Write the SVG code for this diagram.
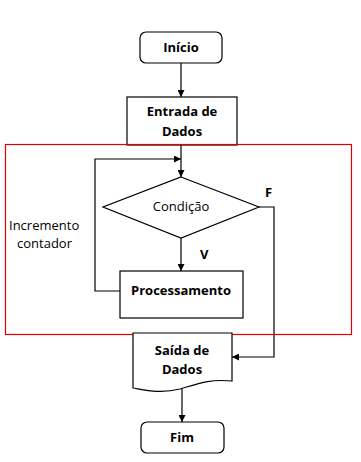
<svg xmlns="http://www.w3.org/2000/svg" width="361" height="462" viewBox="0 0 361 462">
  <style>
    .shape { fill: #ffffff; stroke: #000000; stroke-width: 1.2; }
    .line { fill: none; stroke: #000000; stroke-width: 1.2; }
    .lbl { font-family: "Open Sans", "Liberation Sans", sans-serif; font-size: 13px; fill: #000000; }
    .b { font-weight: bold; }
    .c { text-anchor: middle; }
  </style>
  <defs>
    <marker id="arrow" viewBox="0 0 10 10" refX="10" refY="5" markerWidth="7" markerHeight="7" markerUnits="userSpaceOnUse" orient="auto">
      <path d="M0,0 L10,5 L0,10 z" fill="#000000"/>
    </marker>
  </defs>

  <rect width="361" height="462" fill="#ffffff"/>

  <g id="connectors">
    <line class="line" x1="181" y1="63" x2="181" y2="97" marker-end="url(#arrow)"/>
    <line class="line" x1="181" y1="145" x2="181" y2="177" marker-end="url(#arrow)"/>
    <polyline class="line" points="120,291 95,291 95,159 181,159" marker-end="url(#arrow)"/>
    <line class="line" x1="181" y1="238" x2="181" y2="271" marker-end="url(#arrow)"/>
    <polyline class="line" points="259,207 274,207 274,357 232,357" marker-end="url(#arrow)"/>
    <line class="line" x1="182" y1="389" x2="182" y2="422" marker-end="url(#arrow)"/>
  </g>

  <g id="inicio">
    <rect class="shape" x="140" y="32" width="82" height="31" rx="6"/>
    <text class="lbl b c" x="181" y="52">Início</text>
  </g>

  <g id="entrada">
    <rect class="shape" x="127" y="97" width="110" height="48"/>
    <text class="lbl b c" x="182" y="116">Entrada de</text>
    <text class="lbl b c" x="182" y="136">Dados</text>
  </g>

  <g id="condicao">
    <polygon class="shape" points="181,177 259,207 181,238 103,207"/>
    <text class="lbl c" x="181" y="211">Condição</text>
    <text class="lbl b" x="265" y="197">F</text>
    <text class="lbl b" x="200" y="259">V</text>
  </g>

  <g id="processamento">
    <rect class="shape" x="120" y="271" width="123" height="47"/>
    <text class="lbl b c" x="181" y="295">Processamento</text>
  </g>

  <g id="incremento">
    <text class="lbl" x="9" y="230">Incremento</text>
    <text class="lbl" x="17" y="248">contador</text>
  </g>

  <g id="loop-box">
    <rect x="5.5" y="144.5" width="346" height="190" fill="none" stroke="#e00000" stroke-width="1.2"/>
  </g>

  <g id="saida">
    <path class="shape" d="M133,333 L232,333 L232,381 C210,379 200,383 180,389 C160,394 145,390 133,388 Z"/>
    <text class="lbl b c" x="182" y="355">Saída de</text>
    <text class="lbl b c" x="182" y="374">Dados</text>
  </g>

  <g id="fim">
    <rect class="shape" x="141" y="422" width="83" height="31" rx="6"/>
    <text class="lbl b c" x="182" y="442">Fim</text>
  </g>
</svg>
